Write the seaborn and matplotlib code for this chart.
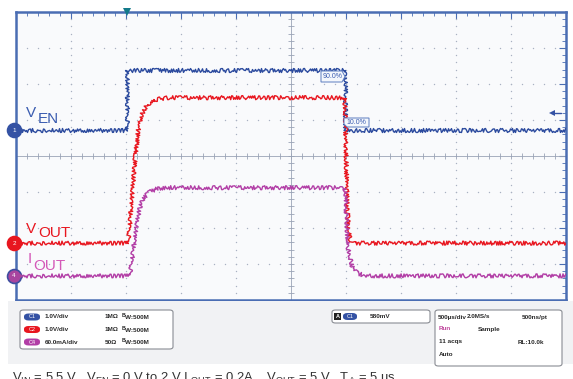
import matplotlib
matplotlib.use("Agg")
import matplotlib.pyplot as plt
from matplotlib.patches import Rectangle, FancyBboxPatch, Polygon
from matplotlib.lines import Line2D
import numpy as np
import pandas as pd
import seaborn as sns

# ---- waveform data (time in microseconds from the left edge of the screen) ----
t_en = [0, 1010, 1010, 2990, 2990, 5000]
v_en = [0, 0, 1.67, 1.67, 0, 0]                       # volts

t_out = [0, 1020, 1035, 1052, 1082, 1112, 1143, 1188, 1245, 1370,
         2990, 3000, 3010, 3020, 3036, 3080, 5000]
v_out = [0, 0, 0.5, 1.19, 2.31, 3.14, 3.56, 3.83, 3.97, 4.04,
         4.04, 2.6, 1.2, 0.5, 0.1, 0, 0]                # volts

t_iout = [0, 1030, 1043, 1067, 1091, 1121, 1157, 1218, 1294, 1370,
          2990, 3000, 3018, 3055, 3100, 3173, 5000]
i_out = [0, 0, 10, 43, 77, 110, 130, 140, 146, 147,
         147, 110, 48, 15, 5, 0, 0]                      # milliamps

# channel vertical scale (units/div) and ground position (div from centre)
ch_names = ["C1", "C2", "C4"]
ch_scale = [1.0, 1.0, 60.0]
ch_offset = [0.72, -2.42, -3.33]
ch_scale_text = ["1.0V/div", "1.0V/div", "60.0mA/div"]
ch_term_text = ["1MΩ", "1MΩ", "50Ω"]

time_per_div = 500  # us
n_xdiv, n_ydiv = 10, 8

BLUE = "#2b4a9e"
RED = "#e8161f"
MAG = "#b23ea6"
BORDER = "#4a6db3"
W, H = 573, 379


def fx(px):
    return px / W


def fy(py):
    return 1 - py / H


sns.set_theme(style="white")
plt.rcParams["font.family"] = ["Liberation Sans", "DejaVu Sans"]

fig = plt.figure(figsize=(W / 100, H / 100), dpi=100)
fig.patch.set_facecolor("white")
fig.patches.append(Rectangle((fx(8), fy(364)), fx(W - 8), 63 / H,
                             transform=fig.transFigure, facecolor="#f1f2f4",
                             edgecolor="none", zorder=0))

ax = fig.add_axes([fx(16), fy(300), fx(550), 288 / H])
ax.set_facecolor("#f9fafc")
xmax = n_xdiv * time_per_div
ax.set_xlim(0, xmax)
ax.set_ylim(-n_ydiv / 2, n_ydiv / 2)

# graticule dots
minor_x = np.arange(0, xmax + 1, time_per_div / 5)
minor_y = np.arange(-4, 4.01, 0.2)
for k in range(-3, 4):
    if k != 0:
        ax.plot(minor_x, np.full_like(minor_x, k), ls="none", marker="o",
                ms=1.0, mew=0, color="#a9b1c2", zorder=1)
for k in range(1, n_xdiv):
    if k != 5:
        ax.plot(np.full_like(minor_y, k * time_per_div), minor_y, ls="none",
                marker="o", ms=1.0, mew=0, color="#a9b1c2", zorder=1)
# centre cross with tick marks
ax.plot(minor_x, np.zeros_like(minor_x), ls="-", lw=0.6, marker="|", ms=4,
        mew=0.6, color="#9aa3b6", zorder=1)
ax.plot(np.full_like(minor_y, xmax / 2), minor_y, ls="-", lw=0.6, marker="_",
        ms=4, mew=0.6, color="#9aa3b6", zorder=1)

# traces
frames = [
    pd.DataFrame({"t": t_en, "div": np.array(v_en) / ch_scale[0] + ch_offset[0], "ch": "C1"}),
    pd.DataFrame({"t": t_out, "div": np.array(v_out) / ch_scale[1] + ch_offset[1], "ch": "C2"}),
    pd.DataFrame({"t": t_iout, "div": np.array(i_out) / ch_scale[2] + ch_offset[2], "ch": "C4"}),
]
for df, col in zip(frames, [BLUE, RED, MAG]):
    n_before = len(ax.lines)
    sns.lineplot(data=df, x="t", y="div", estimator=None, sort=False,
                 color=col, lw=1.0, ax=ax, zorder=3)
    for ln in ax.lines[n_before:]:
        ln.set_sketch_params(scale=2.0, length=1.0, randomness=4)

# axis frame and ticks
ax.set_xticks(np.arange(0, xmax + 1, time_per_div))
ax.set_xticks(minor_x, minor=True)
ax.set_yticks(np.arange(-4, 5, 1))
ax.set_yticks(minor_y, minor=True)
ax.tick_params(which="both", direction="in", top=True, right=True,
               labelbottom=False, labelleft=False, color=BORDER)
ax.tick_params(which="major", length=5, width=0.8)
ax.tick_params(which="minor", length=3, width=0.6)
for s in ax.spines.values():
    s.set_color(BORDER)
    s.set_linewidth(1.8)
ax.set_xlabel("")
ax.set_ylabel("")

# channel ground markers on the left edge
gx = -18
for off, col, edge, lab in zip(ch_offset, ["#3452a4", "#e8161f", "#a8459f"],
                               ["#3452a4", "#e8161f", "#3f4fa0"], ["1", "2", "4"]):
    ax.plot([gx], [off], marker="o", ms=10, color=col, mec=edge, mew=1.2,
            clip_on=False, zorder=6)
    ax.plot([gx + 60], [off], marker=">", ms=4, color=col, mew=0,
            clip_on=False, zorder=6)
    ax.text(gx, off, lab, color="white", fontsize=4.5, ha="center",
            va="center", zorder=7, clip_on=False)

# trigger markers
ax.plot([1010], [4], marker="v", ms=6, color="#137a8a", mew=0,
        clip_on=False, zorder=6)
ax.plot([4870], [(156 - 113) / 36], marker="<", ms=4, color="#3452a4",
        mew=0, zorder=6)
ax.plot([4870, 4950], [(156 - 113) / 36] * 2, color="#3452a4", lw=1, zorder=6)

# signal names
fig.text(fx(26), fy(117), "V", color="#3a5cb0", fontsize=11, va="baseline")
fig.text(fx(38), fy(123), "EN", color="#3a5cb0", fontsize=11, va="baseline")
fig.text(fx(26), fy(233), "V", color="#e8161f", fontsize=11, va="baseline")
fig.text(fx(38), fy(237), "OUT", color="#e8161f", fontsize=11, va="baseline")
fig.text(fx(28), fy(263), "I", color="#d458b8", fontsize=11, va="baseline")
fig.text(fx(33), fy(270), "OUT", color="#d458b8", fontsize=11, va="baseline")

# cursor readouts on the enable edge
def tag(x0, x1, y0, y1, txt, point_right):
    if point_right:
        pts = [(x0, y0), (x1 - 3, y0), (x1, (y0 + y1) / 2), (x1 - 3, y1), (x0, y1)]
    else:
        pts = [(x0, y0), (x1, y0), (x1, y1), (x0 + 3, y1), (x0, y1 - 3)]
    fig.patches.append(Polygon([(fx(a), fy(b)) for a, b in pts],
                               closed=True, transform=fig.transFigure,
                               facecolor="#f4f7fc", edgecolor="#5b7cc0",
                               lw=0.7, zorder=5))
    fig.text(fx((x0 + x1) / 2), fy((y0 + y1) / 2), txt, color="#3a5cb0",
             fontsize=5, ha="center", va="center", zorder=6)

tag(321, 345, 71, 82, "90.0%", True)
tag(344, 369, 118, 127, "10.0%", False)

# ---- status boxes ----
def box(x0, y0, x1, y1):
    fig.patches.append(FancyBboxPatch((fx(x0), fy(y1)), fx(x1 - x0), (y1 - y0) / H,
                                      boxstyle="round,pad=0,rounding_size=0.006",
                                      transform=fig.transFigure, facecolor="white",
                                      edgecolor="#8a8d94", lw=0.8, zorder=2))


def pill(x0, y, label, col, w=16):
    fig.patches.append(FancyBboxPatch((fx(x0), fy(y + 3.5)), fx(w), 7 / H,
                                      boxstyle="round,pad=0,rounding_size=0.008",
                                      transform=fig.transFigure, facecolor=col,
                                      edgecolor="none", zorder=3))
    fig.text(fx(x0 + w / 2), fy(y), label, color="white", fontsize=4,
             ha="center", va="center", zorder=4)


small = dict(fontsize=4.6, fontweight="bold", color="#2a2a2a", va="center", zorder=4)

box(20, 310, 173, 349)
for i, (nm, col) in enumerate(zip(ch_names, ["#3452a4", "#e8161f", "#b23ea6"])):
    yy = 317 + i * 12.5
    pill(24, yy, nm, col)
    fig.text(fx(45), fy(yy), ch_scale_text[i], **small)
    fig.text(fx(105), fy(yy), ch_term_text[i], **small)
    fig.text(fx(122), fy(yy - 1.5), "B", fontsize=3.8, fontweight="bold",
             color="#2a2a2a", va="center", zorder=4)
    fig.text(fx(125), fy(yy + 0.5), "W:500M", **small)

box(332, 310, 430, 323)
fig.patches.append(Rectangle((fx(334), fy(320)), fx(7), 7 / H,
                             transform=fig.transFigure, facecolor="#222",
                             edgecolor="none", zorder=3))
fig.text(fx(337.5), fy(316.5), "A", color="white", fontsize=4,
         fontweight="bold", ha="center", va="center", zorder=4)
pill(343, 316.5, "C1", "#3452a4", w=14)
fig.lines.append(Line2D([fx(361), fx(363), fx(366), fx(368)],
                        [fy(320), fy(320), fy(313), fy(313)],
                        transform=fig.transFigure, color="#222", lw=0.8))
fig.text(fx(370), fy(316.5), "580mV", **small)

box(435, 310, 562, 366)
fig.text(fx(438), fy(317), "500µs/div", **small)
fig.text(fx(467), fy(317), "2.0MS/s", **small)
fig.text(fx(522), fy(317), "500ns/pt", **small)
fig.text(fx(439), fy(329), "Run", fontsize=4.6, fontweight="bold",
         color="#c0489e", va="center", zorder=4)
fig.text(fx(478), fy(329), "Sample", **small)
ax.annotate("", xy=(fx(551), fy(336)), xytext=(fx(551), fy(325)),
            xycoords="figure fraction", textcoords="figure fraction",
            annotation_clip=False,
            arrowprops=dict(arrowstyle="-|>", color="#2b4aa8", lw=1.2,
                            mutation_scale=5))
fig.text(fx(439), fy(342), "11 acqs", **small)
fig.text(fx(518), fy(342), "RL:10.0k", **small)
fig.text(fx(439), fy(355), "Auto", **small)

# test conditions caption (runs off the bottom edge of the page)
fig.text(fx(12), fy(371),
         r"V$_{\mathregular{IN}}$ = 5.5 V,  V$_{\mathregular{EN}}$ = 0 V to 2 V I $_{\mathregular{OUT}}$ = 0.2A,"
         r"   V$_{\mathregular{OUT}}$ = 5 V,  T$_{\mathregular{A}}$ = 5 us",
         fontsize=9.4, color="#333333", va="top")

fig.savefig("out.png", dpi=100)
